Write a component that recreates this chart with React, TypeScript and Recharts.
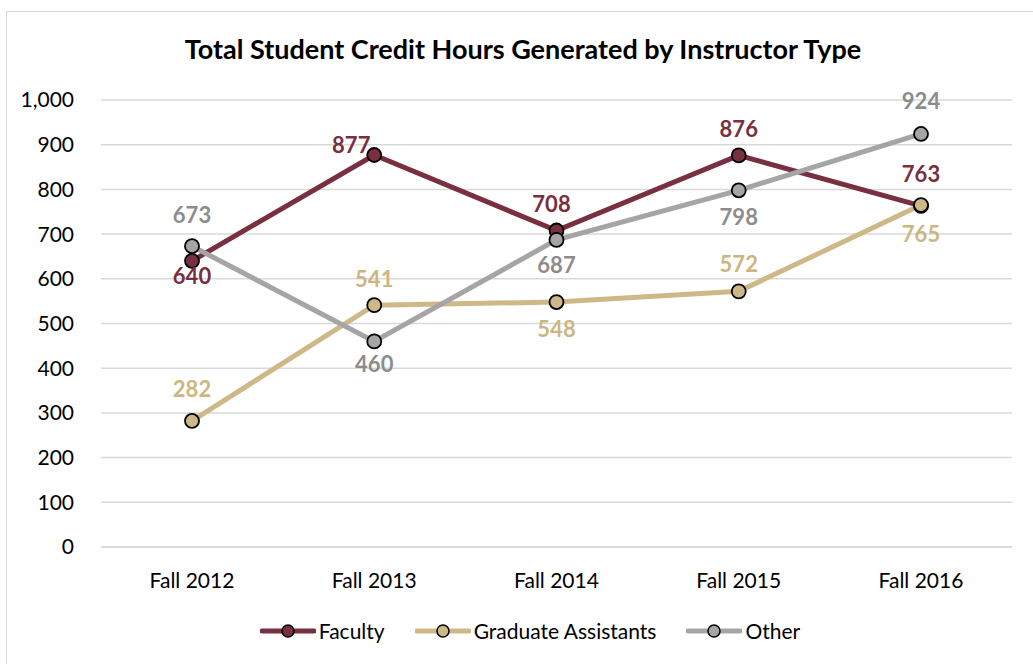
import { LineChart, Line, XAxis, YAxis, CartesianGrid, Legend, LabelList } from 'recharts';

const terms = ['Fall 2012', 'Fall 2013', 'Fall 2014', 'Fall 2015', 'Fall 2016'];
const faculty = [640, 877, 708, 876, 763];
const gradAssistants = [282, 541, 548, 572, 765];
const other = [673, 460, 687, 798, 924];
const yTicks = [0, 100, 200, 300, 400, 500, 600, 700, 800, 900, 1000];

const FONT = 'Lato, "Noto Sans", sans-serif';

const SERIES = [
  { key: 'faculty', name: 'Faculty', color: '#782F40', labelColor: '#782F40' },
  { key: 'grad', name: 'Graduate Assistants', color: '#CEB888', labelColor: '#CBB682' },
  { key: 'other', name: 'Other', color: '#A5A5A5', labelColor: '#8C8C8C' }
];

// label offsets (dx, dy from the marker) per series, per point
const LABEL_OFFSETS: Record<string, [number, number][]> = {
  faculty: [[0, 15], [-23, -10], [-5, -27], [0, -27], [0, -32]],
  grad: [[0, -32], [0, -27], [0, 26], [0, -28], [0, 28]],
  other: [[0, -32], [0, 22], [0, 25], [0, 26], [0, -33]]
};

const data = terms.map((t, i) => ({
  term: t,
  faculty: faculty[i],
  grad: gradAssistants[i],
  other: other[i]
}));

function makeLabel(key: string, color: string) {
  return (props: any) => {
    const { x, y, value, index } = props;
    const [dx, dy] = LABEL_OFFSETS[key][index] ?? [0, -28];
    return (
      <text
        x={x + dx}
        y={y + dy}
        textAnchor="middle"
        dominantBaseline="central"
        fill={color}
        fontFamily={FONT}
        fontSize={22}
        fontWeight={700}
      >
        {value}
      </text>
    );
  };
}

function LegendContent() {
  return (
    <div style={{ display: 'flex', justifyContent: 'center', alignItems: 'center', gap: 30, fontFamily: FONT, fontSize: 21, color: '#000' }}>
      {SERIES.map((s) => (
        <span key={s.key} style={{ display: 'flex', alignItems: 'center', gap: 3 }}>
          <svg width={56} height={16}>
            <line x1={2} y1={8} x2={54} y2={8} stroke={s.color} strokeWidth={5} strokeLinecap="round" />
            <circle cx={28} cy={8} r={6} fill={s.color} stroke="#000" strokeWidth={1.5} />
          </svg>
          {s.name}
        </span>
      ))}
    </div>
  );
}

export default function App() {
  return (
    <div style={{ position: 'fixed', left: 0, top: 0, width: 1033, height: 664, background: '#fff', overflow: 'hidden' }}>
      <div style={{ position: 'absolute', left: 6, top: 11, width: 1040, height: 700, border: '1.5px solid #d9d9d9' }} />
      <div
        style={{
          position: 'absolute', left: 0, top: 32, width: 1046, textAlign: 'center',
          fontFamily: FONT, fontWeight: 700, fontSize: 27, color: '#000'
        }}
      >
        Total Student Credit Hours Generated by Instructor Type
      </div>
      <div style={{ position: 'absolute', left: 0, top: 0 }}>
        <LineChart width={1033} height={664} data={data} margin={{ top: 100, right: 21, left: 0, bottom: 0 }}>
          <CartesianGrid vertical={false} stroke="#d9d9d9" strokeWidth={1.5} />
          <XAxis
            dataKey="term"
            height={117}
            padding={{ left: 91, right: 91 }}
            axisLine={{ stroke: '#d9d9d9', strokeWidth: 1.5 }}
            tickLine={false}
            tickMargin={20}
            tick={{ fontFamily: FONT, fontSize: 21, fill: '#000' }}
          />
          <YAxis
            width={101}
            domain={[0, 1000]}
            ticks={yTicks}
            axisLine={false}
            tickLine={false}
            tickMargin={21}
            tickFormatter={(v) => v.toLocaleString('en-US')}
            tick={{ fontFamily: FONT, fontSize: 21, fill: '#000' }}
          />
          <Legend
            verticalAlign="middle"
            align="center"
            wrapperStyle={{ top: 618, left: 0, width: 1060 }}
            content={() => <LegendContent />}
          />
          {SERIES.map((s) => (
            <Line
              key={s.key}
              dataKey={s.key}
              name={s.name}
              stroke={s.color}
              strokeWidth={5}
              dot={{ r: 7, fill: s.color, stroke: '#000', strokeWidth: 1.8 }}
              isAnimationActive={false}
            >
              <LabelList dataKey={s.key} content={makeLabel(s.key, s.labelColor)} />
            </Line>
          ))}
        </LineChart>
      </div>
    </div>
  );
}
